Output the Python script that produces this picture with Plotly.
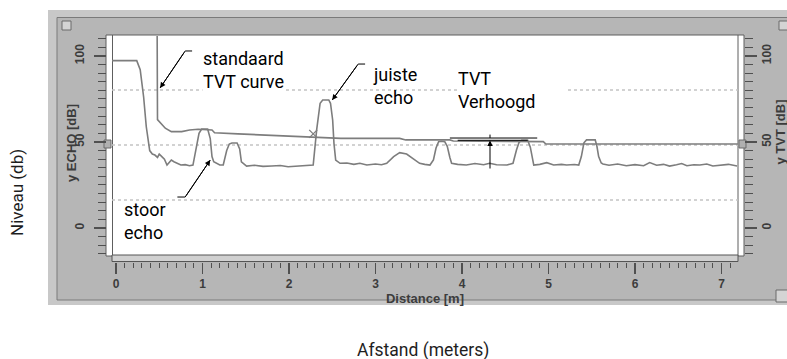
import plotly.graph_objects as go

W, H = 787, 359

# ---------------- data ----------------
echo_dist = [-0.05, 0.24, 0.28, 0.32, 0.35, 0.39, 0.42, 0.45, 0.48, 0.50, 0.53, 0.56, 0.59, 0.62, 0.64,
             0.67, 0.70, 0.75, 0.80, 0.85, 0.89, 0.93, 0.96, 0.99, 1.06, 1.09, 1.11, 1.13, 1.20, 1.24,
             1.28, 1.31, 1.34, 1.40, 1.43, 1.45, 1.51, 1.60, 1.70, 1.80, 1.90, 1.99, 2.10, 2.20, 2.28,
             2.32, 2.34, 2.36, 2.39, 2.46, 2.48, 2.505, 2.52, 2.54, 2.59, 2.67, 2.75, 2.82, 2.90, 3.00,
             3.07, 3.13, 3.21, 3.28, 3.36, 3.43, 3.51, 3.57, 3.63, 3.67, 3.70, 3.73, 3.76, 3.80, 3.83,
             3.86, 3.88, 3.95, 4.05, 4.15, 4.25, 4.32, 4.40, 4.52, 4.59, 4.63, 4.66, 4.69, 4.76, 4.79,
             4.81, 4.83, 4.90, 4.98, 5.06, 5.15, 5.21, 5.30, 5.35, 5.38, 5.41, 5.44, 5.54, 5.56, 5.58,
             5.61, 5.63, 5.70, 5.80, 5.90, 6.00, 6.10, 6.17, 6.25, 6.33, 6.40, 6.48, 6.54, 6.60, 6.68,
             6.75, 6.83, 6.90, 7.00, 7.08, 7.18]
echo_db = [97.3, 97.3, 92, 76, 59, 45, 43, 42.4, 41, 43, 41.5, 40, 36.6, 38, 39.5,
           38.5, 37.6, 36.6, 36.8, 36.2, 36.6, 47, 55, 57.5, 57.5, 52, 41.5, 38.5, 36.6, 36.6,
           45, 48.8, 49.4, 49.4, 46, 38.5, 36, 36.5, 35.8, 36, 36.3, 35.6, 36, 36.3, 36.6,
           57, 66.5, 72.5, 74.4, 74.4, 72.5, 62.8, 49.2, 39.5, 37.6, 37.8, 37, 37.6, 36.6, 37.2,
           36.8, 37.6, 41.5, 43.8, 43, 40.5, 37.6, 37, 36.6, 39.5, 46.5, 50.2, 50.4, 50.2, 47.5,
           41, 37.6, 37, 36.6, 37.5, 36.8, 37.6, 36.8, 36.6, 37.6, 45.3, 49.8, 51, 51, 47,
           40.5, 36.6, 37, 38, 36.6, 37, 36.6, 36.9, 36.6, 41.5, 49.5, 51.2, 51.2, 47.5, 41.5,
           37.8, 37.2, 36.5, 37.2, 36.2, 36.8, 36.2, 38, 36.5, 37, 36, 36.8, 37.5, 36.2, 36.8,
           36.6, 37.2, 36, 36.5, 37, 36]

tvt_dist = [-0.05, 0.475, 0.48, 0.50, 0.53, 0.57, 0.64, 0.76, 0.85, 0.95, 1.11, 1.14, 1.41, 1.80,
            2.18, 2.41, 2.60, 3.28, 3.35, 3.86, 3.90, 4.94, 4.97, 7.19]
tvt_db = [125, 125, 63, 62, 60, 58, 56, 56, 57, 57.4, 57, 55.4, 54.7, 53.9,
          52.7, 52.4, 52.1, 52.1, 51.2, 51.2, 50.6, 50.2, 48.8, 48.8]

cross_dist = [2.28]
cross_db = [54.7]

x_ticks = [0, 1, 2, 3, 4, 5, 6, 7]
y_ticks = [0, 50, 100]
grid_db = [80.2, 48.3, 16.3]

x_range = [-0.046, 7.191]
y_range = [-15.7, 111.6]

assert len(echo_dist) == len(echo_db), (len(echo_dist), len(echo_db))
assert len(tvt_dist) == len(tvt_db)

# annotation texts: (text, x, y, white box)
labels = [("standaard<br>TVT curve", 0.99, 91.6, True),
          ("juiste<br>echo", 2.96, 82.6, False),
          ("TVT<br>Verhoogd", 3.94, 80.5, True),
          ("stoor<br>echo", 0.08, 3.8, False)]
# leader arrows: (tip_x, tip_y, tail_x, tail_y, hook_x)
leaders = [(0.51, 81.4, 0.80, 102.9, 0.88),
           (2.50, 74.4, 2.80, 95.3, 2.88),
           (1.09, 39.5, 0.80, 18.0, 0.71)]

# ---------------- helpers (pixel -> paper) ----------------
def px(x):
    return x / W


def py(y):
    return 1 - y / H


xdom = [px(112), px(738)]
ydom = [py(255), py(36)]

LINE = "#7d7d7d"
TICK = "#505050"
TXT = "#3c3c3c"

fig = go.Figure()
fig.add_trace(go.Scatter(x=echo_dist, y=echo_db, mode="lines",
                         line=dict(color=LINE, width=1.6), hoverinfo="skip"))
fig.add_trace(go.Scatter(x=tvt_dist, y=tvt_db, mode="lines",
                         line=dict(color=LINE, width=1.6), hoverinfo="skip"))
fig.add_trace(go.Scatter(x=cross_dist, y=cross_db, mode="markers",
                         marker=dict(symbol="x-thin", size=8, line=dict(color=LINE, width=1.3)),
                         hoverinfo="skip"))
# dummies so the decorative axes are drawn
fig.add_trace(go.Scatter(x=[None], y=[None], xaxis="x2", yaxis="y", hoverinfo="skip"))
fig.add_trace(go.Scatter(x=[None], y=[None], xaxis="x", yaxis="y2", hoverinfo="skip"))
fig.add_trace(go.Scatter(x=[None], y=[None], xaxis="x", yaxis="y3", hoverinfo="skip"))

shapes = []
# gray instrument panel
shapes.append(dict(type="rect", xref="paper", yref="paper", x0=px(48), x1=px(790), y0=py(305), y1=py(10),
                   fillcolor="#c8c8c8", line=dict(width=0), layer="below"))
shapes.append(dict(type="rect", xref="paper", yref="paper", x0=px(57), x1=px(790), y0=py(300), y1=py(17.5),
                   fillcolor="#b6b6b6", line=dict(color="#7a7a7a", width=1), layer="below"))
# white plot window
shapes.append(dict(type="rect", xref="paper", yref="paper", x0=px(106), x1=px(744), y0=py(256), y1=py(35),
                   fillcolor="white", line=dict(color="#5e5e5e", width=1), layer="below"))
for xx in (112.5, 738):
    shapes.append(dict(type="line", xref="paper", yref="paper", x0=px(xx), x1=px(xx), y0=py(256), y1=py(35),
                       line=dict(color="#5e5e5e", width=1), layer="below"))
# bottom bevel
shapes.append(dict(type="rect", xref="paper", yref="paper", x0=px(112), x1=px(738), y0=py(261.5), y1=py(255),
                   fillcolor="#d0d0d0", line=dict(color="#555555", width=1), layer="below"))
# handles at the 50 dB level
for x0, x1 in ((104, 111), (739, 746)):
    shapes.append(dict(type="rect", xref="paper", yref="paper", x0=px(x0), x1=px(x1), y0=py(148), y1=py(140),
                       fillcolor="#b0b0b0", line=dict(color="#6a6a6a", width=1), layer="below"))
# small window buttons
for x0, x1, y0, y1 in ((62, 71, 30, 21), (779, 788, 30, 21), (776, 788, 302, 290)):
    shapes.append(dict(type="rect", xref="paper", yref="paper", x0=px(x0), x1=px(x1), y0=py(y0), y1=py(y1),
                       fillcolor="#d4d4d4", line=dict(color="#6a6a6a", width=1), layer="below"))
# dotted grid lines
for g in grid_db:
    shapes.append(dict(type="line", xref="x domain", yref="y", x0=0, x1=1, y0=g, y1=g,
                       line=dict(color="#c4c4c4", width=1.5, dash="dot"), layer="below"))
# leader hooks and diagonals
for tipx, tipy, tailx, taily, hookx in leaders:
    shapes.append(dict(type="line", xref="x", yref="y", x0=tailx, x1=hookx, y0=taily, y1=taily,
                       line=dict(color="black", width=1)))
    shapes.append(dict(type="line", xref="x", yref="y", x0=tailx, x1=tipx, y0=taily, y1=tipy,
                       line=dict(color="black", width=1)))
# TVT raised marker lines
shapes.append(dict(type="line", xref="x", yref="y", x0=3.86, x1=4.87, y0=52.3, y1=52.3,
                   line=dict(color="black", width=1)))
shapes.append(dict(type="line", xref="x", yref="y", x0=3.95, x1=4.76, y0=50.9, y1=50.9,
                   line=dict(color="#222222", width=1.3)))
shapes.append(dict(type="line", xref="x", yref="y", x0=4.324, x1=4.324, y0=52.3, y1=54.3,
                   line=dict(color="black", width=1)))

annotations = []
for text, x, y, bg in labels:
    a = dict(text=text, x=x, y=y, xref="x", yref="y", xanchor="left", yanchor="middle",
             align="left", showarrow=False,
             font=dict(family="Roboto, Arial, sans-serif", size=18, color="black"),
             borderpad=0)
    if bg:
        a["bgcolor"] = "white"
    if text.startswith("TVT<br>"):
        a["width"] = 108
    annotations.append(a)
for tipx, tipy, tailx, taily, hookx in leaders:
    annotations.append(dict(text="", x=tipx, y=tipy, ax=tailx, ay=taily, xref="x", yref="y",
                            axref="x", ayref="y", showarrow=True, arrowhead=2, arrowsize=1.1,
                            arrowwidth=1, arrowcolor="black", standoff=0, startstandoff=0))
annotations.append(dict(text="", x=4.324, y=50.9, ax=4.324, ay=33.7, xref="x", yref="y",
                        axref="x", ayref="y", showarrow=True, arrowhead=2, arrowsize=1.1,
                        arrowwidth=1, arrowcolor="black", standoff=0, startstandoff=0))
# outer figure labels
annotations.append(dict(text="Niveau (db)", x=px(17), y=py(193), xref="paper", yref="paper",
                        xanchor="center", yanchor="middle", showarrow=False, textangle=-90,
                        font=dict(family="Roboto, Arial, sans-serif", size=17, color="#1e1e1e")))
annotations.append(dict(text="Afstand (meters)", x=px(423), y=py(350), xref="paper", yref="paper",
                        xanchor="center", yanchor="middle", showarrow=False,
                        font=dict(family="Roboto, Arial, sans-serif", size=17.5, color="#1e1e1e")))

tickfont = dict(family="Liberation Sans, Arial, sans-serif", size=12, color=TXT, weight="bold")
titlefont = dict(family="Liberation Sans, Arial, sans-serif", size=13, color=TXT, weight="bold")

# instrument axis titles
annotations.append(dict(text="y ECHO [dB]", x=px(71), y=py(143), xref="paper", yref="paper",
                        xanchor="center", yanchor="middle", showarrow=False, textangle=-90,
                        font=titlefont))
annotations.append(dict(text="y TVT [dB]", x=px(779.5), y=py(132), xref="paper", yref="paper",
                        xanchor="center", yanchor="middle", showarrow=False, textangle=-90,
                        font=titlefont))

fig.update_layout(
    width=W, height=H, margin=dict(l=0, r=0, t=0, b=0, autoexpand=False),
    paper_bgcolor="white", plot_bgcolor="rgba(0,0,0,0)", showlegend=False,
    xaxis=dict(domain=xdom, range=x_range, visible=False, fixedrange=True, automargin=False),
    yaxis=dict(domain=ydom, range=y_range, visible=False, fixedrange=True, automargin=False),
    xaxis2=dict(domain=xdom, range=x_range, overlaying="x", anchor="free", position=py(261.5),
                side="bottom", tickvals=x_ticks, ticks="outside", ticklen=11, tickwidth=1.2,
                tickcolor=TICK, showgrid=False, zeroline=False, showline=False, tickfont=tickfont,
                minor=dict(dtick=0.1, tick0=0, ticks="outside", ticklen=5, tickcolor=TICK, tickwidth=1),
                title=dict(text="Distance [m]", font=titlefont, standoff=0), fixedrange=True,
                automargin=False),
    yaxis3=dict(domain=ydom, range=y_range, overlaying="y", anchor="free", position=px(106),
                side="left", tickvals=y_ticks, ticks="outside", ticklen=12, tickwidth=1.2,
                tickcolor=TICK, showgrid=False, zeroline=False, showline=False, tickfont=tickfont,
                tickangle=-90, ticklabelstandoff=5,
                minor=dict(dtick=5, tick0=0, ticks="outside", ticklen=8, tickcolor=TICK, tickwidth=1),
                fixedrange=True, automargin=False),
    yaxis2=dict(domain=ydom, range=y_range, overlaying="y", anchor="free", position=px(744),
                side="right", tickvals=y_ticks, ticks="outside", ticklen=12, tickwidth=1.2,
                tickcolor=TICK, showgrid=False, zeroline=False, showline=False, tickfont=tickfont,
                tickangle=-90,
                minor=dict(dtick=5, tick0=0, ticks="outside", ticklen=8, tickcolor=TICK, tickwidth=1),
                fixedrange=True, automargin=False),
    shapes=shapes, annotations=annotations,
)

fig.write_html("out.html", config={"displayModeBar": False, "staticPlot": True},
               post_script="document.body.style.margin='0';document.body.style.overflow='hidden';")
